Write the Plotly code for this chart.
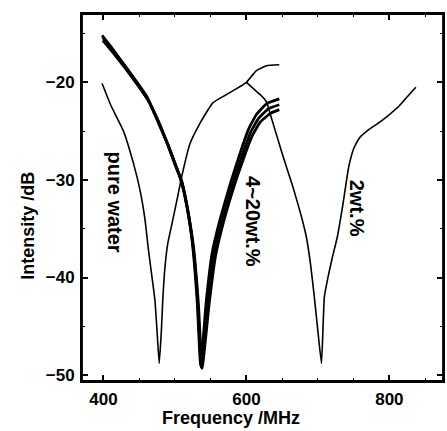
import plotly.graph_objects as go

# ---- data ----
water_f = [398, 410, 428, 442, 451, 458, 463, 468, 472, 475, 478, 481, 483, 486, 490, 497, 503, 510, 521, 535, 553, 571, 585, 600, 614, 628, 646]
water_db = [-20.1, -22.3, -25.0, -28.3, -31.0, -34.0, -37.2, -40.0, -42.3, -45.5, -48.8, -45.5, -42.3, -39.0, -36.5, -34.1, -32.0, -29.5, -26.3, -24.2, -22.1, -21.3, -20.7, -20.0, -18.8, -18.3, -18.2]

wt2_f = [600, 609, 620, 628, 636, 650, 665, 676, 684, 690, 695, 700, 705, 707, 709, 714, 720, 727, 735, 743, 750, 758, 772, 786, 800, 814, 826, 837]
wt2_db = [-20.0, -20.6, -21.3, -22.0, -23.9, -27.3, -30.7, -33.5, -35.9, -38.8, -42.0, -45.5, -48.8, -45.5, -42.0, -40.0, -38.0, -35.9, -32.5, -28.7, -26.8, -25.7, -24.8, -24.1, -23.3, -22.4, -21.4, -20.5]

wtA_f = [398, 413, 428, 445, 461, 475, 489, 500, 507, 516, 524, 531, 536, 544, 552, 563, 577, 591, 603, 614, 628, 646]
wtA_db = [-15.2, -16.6, -18.1, -19.8, -21.5, -23.8, -26.2, -28.3, -29.7, -32.4, -36.2, -42.3, -49.0, -42.3, -37.5, -34.1, -30.5, -27.3, -24.8, -23.3, -22.2, -21.7]

wtB_f = [399, 414, 430, 446, 462, 477, 490, 501, 509, 517, 525, 532, 537, 546, 554, 566, 580, 594, 606, 617, 631, 646]
wtB_db = [-15.4, -16.8, -18.3, -20.0, -21.8, -24.0, -26.4, -28.6, -30.0, -32.8, -36.6, -42.6, -49.2, -42.5, -37.6, -34.2, -30.6, -27.5, -25.1, -23.7, -22.7, -22.3]

wtC_f = [399, 415, 431, 448, 464, 478, 492, 503, 510, 518, 526, 533, 538, 548, 557, 568, 582, 596, 608, 619, 633, 646]
wtC_db = [-15.7, -17.1, -18.6, -20.3, -22.0, -24.3, -26.7, -28.9, -30.3, -33.1, -36.9, -42.9, -49.3, -42.6, -37.7, -34.3, -30.8, -27.8, -25.5, -24.1, -23.2, -22.8]

x_ticks = [400, 600, 800]
y_ticks = [-20, -30, -40, -50]

FONT = "Liberation Sans"

fig = go.Figure()
thin = dict(color="black", width=1.6, shape="spline", smoothing=0.4)
thick = dict(color="black", width=2.8, shape="spline", smoothing=0.4)
fig.add_trace(go.Scatter(x=water_f, y=water_db, mode="lines", line=thin, name="pure water"))
fig.add_trace(go.Scatter(x=wt2_f, y=wt2_db, mode="lines", line=thin, name="2wt.%"))
for fx, fy in [(wtA_f, wtA_db), (wtB_f, wtB_db), (wtC_f, wtC_db)]:
    fig.add_trace(go.Scatter(x=fx, y=fy, mode="lines", line=thick, name="4~20wt.%"))

axis_common = dict(
    showline=True, linecolor="black", linewidth=1.8, mirror="allticks",
    ticks="inside", ticklen=6, tickwidth=1.5, tickcolor="black",
    showgrid=False, zeroline=False, automargin=False,
    tickfont=dict(family=FONT, size=17, color="black", weight="bold"),
)
fig.update_xaxes(range=[370, 875], tickvals=x_ticks, ticktext=[str(v) for v in x_ticks],
                 minor=dict(dtick=50, tick0=0, ticks="inside", ticklen=3, tickcolor="black", tickwidth=1.2),
                 ticklabelstandoff=2, **axis_common)
fig.update_yaxes(range=[-50.6, -13.0], tickvals=y_ticks, ticktext=["\u221220", "\u221230", "\u221240", "\u221250"],
                 minor=dict(dtick=5, tick0=0, ticks="inside", ticklen=3, tickcolor="black", tickwidth=1.2),
                 ticklabelstandoff=2, **axis_common)

# frame around the plot area
fig.add_shape(type="rect", xref="paper", yref="paper", x0=0, y0=0, x1=1, y1=1,
              line=dict(color="black", width=1.8), layer="above")

lab = dict(family=FONT, size=20, color="black", weight="bold")
anns = [
    dict(x=416, y=-32.3, text="pure water", textangle=90),
    dict(x=609, y=-34.3, text="4~20wt.%", textangle=90),
    dict(x=754, y=-32.9, text="2wt.%", textangle=90),
]
for a in anns:
    fig.add_annotation(xref="x", yref="y", showarrow=False, font=lab, **a)
axlab = dict(family=FONT, size=18, color="black", weight="bold")
fig.add_annotation(xref="x", yref="paper", x=578, y=0, yanchor="middle", yshift=-37,
                   text="Frequency /MHz", showarrow=False, font=axlab)
fig.add_annotation(xref="paper", yref="y", x=0, y=-34.7, xanchor="center", xshift=-54,
                   text="Intensity /dB", textangle=-90, showarrow=False, font=axlab)

fig.update_layout(
    width=447, height=431,
    margin=dict(l=82, r=4, t=14, b=50),
    paper_bgcolor="white", plot_bgcolor="white",
    showlegend=False,
)
fig.write_html(
    "out.html",
    config={"displayModeBar": False},
    post_script="document.body.style.margin='0';document.body.style.overflow='hidden';",
)
